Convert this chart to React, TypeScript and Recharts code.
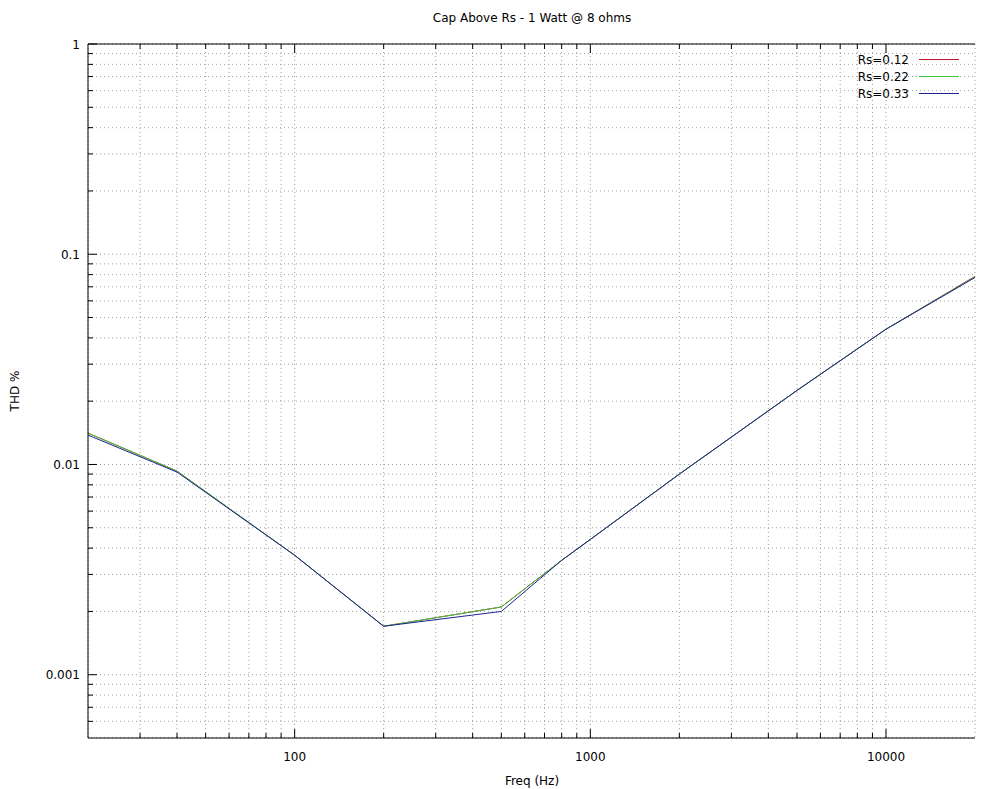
import React from "react";
import { LineChart, Line, XAxis, YAxis, CartesianGrid, Legend } from "recharts";

// THD % vs frequency, three values of Rs
const freqs = [20, 40, 100, 200, 500, 800, 1000, 2000, 5000, 10000, 20000];
const rs012 = [0.0141, 0.0093, 0.0037, 0.0017, 0.0021, 0.0035, 0.0044, 0.009, 0.0225, 0.044, 0.0785];
const rs022 = [0.0141, 0.0093, 0.0037, 0.0017, 0.0021, 0.0035, 0.0044, 0.009, 0.0225, 0.044, 0.078];
const rs033 = [0.0138, 0.0092, 0.0037, 0.0017, 0.002, 0.0035, 0.0044, 0.009, 0.0225, 0.044, 0.0775];

const seriesNames = ["Rs=0.12", "Rs=0.22", "Rs=0.33"];
const seriesColors = ["#c0182a", "#3cc83c", "#1c2494"];

const xTicks = [
  30, 40, 50, 60, 70, 80, 90, 100,
  200, 300, 400, 500, 600, 700, 800, 900, 1000,
  2000, 3000, 4000, 5000, 6000, 7000, 8000, 9000, 10000,
];
const xLabels = [100, 1000, 10000];

const yTicks = [
  0.0006, 0.0007, 0.0008, 0.0009, 0.001,
  0.002, 0.003, 0.004, 0.005, 0.006, 0.007, 0.008, 0.009, 0.01,
  0.02, 0.03, 0.04, 0.05, 0.06, 0.07, 0.08, 0.09, 0.1,
  0.2, 0.3, 0.4, 0.5, 0.6, 0.7, 0.8, 0.9, 1,
];
const yLabels = [0.001, 0.01, 0.1, 1];

const data = freqs.map((f, i) => ({ f, a: rs012[i], b: rs022[i], c: rs033[i] }));

const font = "'DejaVu Sans', sans-serif";

function BottomTick(props: any) {
  const { x, y, payload } = props;
  const major = xLabels.includes(payload.value);
  return (
    <g>
      <line x1={x} y1={y} x2={x} y2={y - (major ? 9 : 5)} stroke="#000" />
      {major && (
        <text x={x} y={y + 23} textAnchor="middle" fontSize={12} fontFamily={font} fill="#000">
          {payload.value}
        </text>
      )}
    </g>
  );
}

function TopTick(props: any) {
  const { x, y, payload } = props;
  const major = xLabels.includes(payload.value);
  return <line x1={x} y1={y} x2={x} y2={y + (major ? 9 : 5)} stroke="#000" />;
}

function LeftTick(props: any) {
  const { x, y, payload } = props;
  const major = yLabels.includes(payload.value);
  return (
    <g>
      <line x1={x} y1={y} x2={x + (major ? 9 : 5)} y2={y} stroke="#000" />
      {major && (
        <text x={x - 8} y={y + 4.5} textAnchor="end" fontSize={12} fontFamily={font} fill="#000">
          {payload.value}
        </text>
      )}
    </g>
  );
}

function RightTick(props: any) {
  const { x, y, payload } = props;
  const major = yLabels.includes(payload.value);
  return <line x1={x} y1={y} x2={x - (major ? 9 : 5)} y2={y} stroke="#000" />;
}

function renderLegend(props: any) {
  const items = props.payload || [];
  return (
    <div style={{ fontFamily: font, fontSize: 12 }}>
      {items.map((it: any, i: number) => (
        <div key={it.value} style={{ display: "flex", alignItems: "center", height: 17 }}>
          <span style={{ width: 83, textAlign: "right" }}>{it.value}</span>
          <svg width={40} height={3} style={{ marginLeft: 10, display: "block" }}>
            <line x1={0} y1={1.5} x2={40} y2={1.5} stroke={seriesColors[i]} strokeWidth={1} />
          </svg>
        </div>
      ))}
    </div>
  );
}

const textStyle: React.CSSProperties = {
  position: "absolute",
  fontFamily: font,
  fontSize: 12,
  color: "#000",
  whiteSpace: "nowrap",
  lineHeight: "14px",
};

export default function App() {
  return (
    <div style={{ position: "absolute", left: 0, top: 0, width: 991, height: 789, background: "#fff" }}>
      <LineChart
        width={991}
        height={789}
        data={data}
        margin={{ top: 0, right: 16, bottom: 0, left: 0 }}
      >
        <CartesianGrid stroke="#a0a0a0" strokeDasharray="1 3" />
        <XAxis
          dataKey="f"
          type="number"
          scale="log"
          domain={[20, 20000]}
          allowDataOverflow
          ticks={xTicks}
          interval={0}
          height={51}
          tickLine={false}
          tickSize={0}
          tickMargin={0}
          axisLine={{ stroke: "#000" }}
          tick={<BottomTick />}
        />
        <XAxis
          xAxisId="top"
          orientation="top"
          dataKey="f"
          type="number"
          scale="log"
          domain={[20, 20000]}
          allowDataOverflow
          ticks={xTicks}
          interval={0}
          height={44}
          tickLine={false}
          tickSize={0}
          tickMargin={0}
          axisLine={{ stroke: "#000" }}
          tick={<TopTick />}
        />
        <YAxis
          type="number"
          scale="log"
          domain={[0.0005, 1]}
          allowDataOverflow
          ticks={yTicks}
          interval={0}
          width={88}
          tickLine={false}
          tickSize={0}
          tickMargin={0}
          axisLine={{ stroke: "#000" }}
          tick={<LeftTick />}
        />
        <YAxis
          yAxisId="right"
          orientation="right"
          type="number"
          scale="log"
          domain={[0.0005, 1]}
          allowDataOverflow
          ticks={yTicks}
          interval={0}
          width={0}
          tickLine={false}
          tickSize={0}
          tickMargin={0}
          axisLine={{ stroke: "#000" }}
          tick={<RightTick />}
        />
        <Legend
          layout="horizontal"
          verticalAlign="middle"
          align="center"
          content={renderLegend}
          wrapperStyle={{ left: 826, top: 51, width: 140 }}
        />
        <Line type="linear" dataKey="a" name={seriesNames[0]} stroke={seriesColors[0]} strokeWidth={1} dot={false} activeDot={false} isAnimationActive={false} />
        <Line type="linear" dataKey="b" name={seriesNames[1]} stroke={seriesColors[1]} strokeWidth={1} dot={false} activeDot={false} isAnimationActive={false} />
        <Line type="linear" dataKey="c" name={seriesNames[2]} stroke={seriesColors[2]} strokeWidth={1} dot={false} activeDot={false} isAnimationActive={false} />
      </LineChart>
      <div style={{ ...textStyle, left: 532, top: 18, transform: "translate(-50%, -50%)" }}>
        Cap Above Rs - 1 Watt @ 8 ohms
      </div>
      <div style={{ ...textStyle, left: 532, top: 781, transform: "translate(-50%, -50%)" }}>
        Freq (Hz)
      </div>
      <div style={{ ...textStyle, left: 15, top: 391, transform: "translate(-50%, -50%) rotate(-90deg)" }}>
        THD %
      </div>
    </div>
  );
}
